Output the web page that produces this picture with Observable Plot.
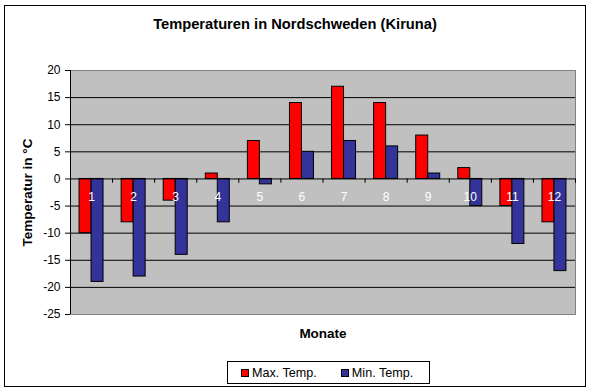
<!DOCTYPE html>
<html><head><meta charset="utf-8">
<script src="https://cdn.jsdelivr.net/npm/d3@7"></script>
<script src="https://cdn.jsdelivr.net/npm/@observablehq/plot@0.6"></script>
<style>
body{margin:0;background:#fff;}
#wrap{position:relative;width:590px;height:392px;font-family:"Liberation Sans",Arial,sans-serif;overflow:hidden;}
#frame{position:absolute;left:4px;top:5px;width:582px;height:382px;border:1px solid #000;box-sizing:border-box;}
#title{position:absolute;left:0;width:590px;top:17px;text-align:center;font-weight:bold;font-size:14.7px;line-height:1;}
#chart{position:absolute;left:0;top:0;}
#legend{position:absolute;left:227px;top:361px;width:203px;height:23px;border:1px solid #000;box-sizing:border-box;font-size:12.6px;display:flex;align-items:center;}
.sw{display:inline-block;width:6px;height:6px;border:1px solid #000;margin-right:3px;}
.it{display:flex;align-items:center;}
</style>
</head><body>
<div id="wrap"><div id="frame"></div><div id="title"></div><div id="chart"></div><div id="legend"></div></div>
<script>
const titleText = "Temperaturen in Nordschweden (Kiruna)";
const yLabel = "Temperatur in °C";
const xLabel = "Monate";
const months = [1,2,3,4,5,6,7,8,9,10,11,12];
const maxTemp = [-10,-8,-4,1,7,14,17,14,8,2,-5,-8];
const minTemp = [-19,-18,-14,-8,-1,5,7,6,1,-5,-12,-17];
const seriesNames = ["Max. Temp.","Min. Temp."];
const seriesColors = ["#FF0000","#333399"];
const yTicks = [-25,-20,-15,-10,-5,0,5,10,15,20];
const gridVals = [-20,-15,-10,-5,5,10,15];

const bw = 0.285; // bar width in category units
const data = [];
months.forEach((m,i)=>{
  data.push({m, v:maxTemp[i], s:0});
  data.push({m, v:minTemp[i], s:1});
});
const bounds = months.map(m=>m-0.5).concat([months[months.length-1]+0.5]);

document.getElementById("title").textContent = titleText;

const chart = Plot.plot({
  width:590, height:392,
  marginLeft:70, marginRight:15, marginTop:70, marginBottom:78,
  x:{domain:[0.5,12.5], axis:null},
  y:{domain:[-25,20], axis:null},
  style:{fontFamily:"'Liberation Sans',Arial,sans-serif", fontSize:"12px", background:"transparent", overflow:"visible"},
  marks:[
    Plot.frame({fill:"#C0C0C0", stroke:"#808080"}),
    Plot.ruleY(gridVals, {stroke:"#000", strokeWidth:1}),
    Plot.rectY(data, {
      x1: d => d.s===0 ? d.m-bw : d.m,
      x2: d => d.s===0 ? d.m : d.m+bw,
      y1: 0, y2: d=>d.v,
      fill: d=>seriesColors[d.s], stroke:"#000", strokeWidth:1
    }),
    Plot.ruleY([0], {stroke:"#000"}),
    Plot.ruleX(bounds, {y1:0, y2:-0.8, stroke:"#000"}),
    Plot.ruleX([0.5], {stroke:"#000"}),
    Plot.axisY({ticks:yTicks, tickSize:5, tickPadding:5, tickFormat:d=>String(d), label:null, fontSize:12, fill:"#000"}),
    Plot.text(months, {x:d=>d, y:0, dy:18, text:d=>String(d), fill:"#fff", fontSize:12}),
    Plot.text([yLabel], {frameAnchor:"left", dx:-43, rotate:-90, textAnchor:"middle", text:d=>d, fontWeight:"bold", fontSize:13.5, fill:"#000"}),
    Plot.text([xLabel], {frameAnchor:"bottom", dy:23, text:d=>d, fontWeight:"bold", fontSize:13.5, fill:"#000"})
  ]
});
document.getElementById("chart").appendChild(chart);

const lg = document.getElementById("legend");
seriesNames.forEach((n,i)=>{
  const it = document.createElement("span");
  it.className="it";
  it.style.marginLeft = i===0 ? "13px" : "24px";
  const sw = document.createElement("span");
  sw.className="sw"; sw.style.background = seriesColors[i];
  it.appendChild(sw);
  it.appendChild(document.createTextNode(n));
  lg.appendChild(it);
});
</script>
</body></html>
